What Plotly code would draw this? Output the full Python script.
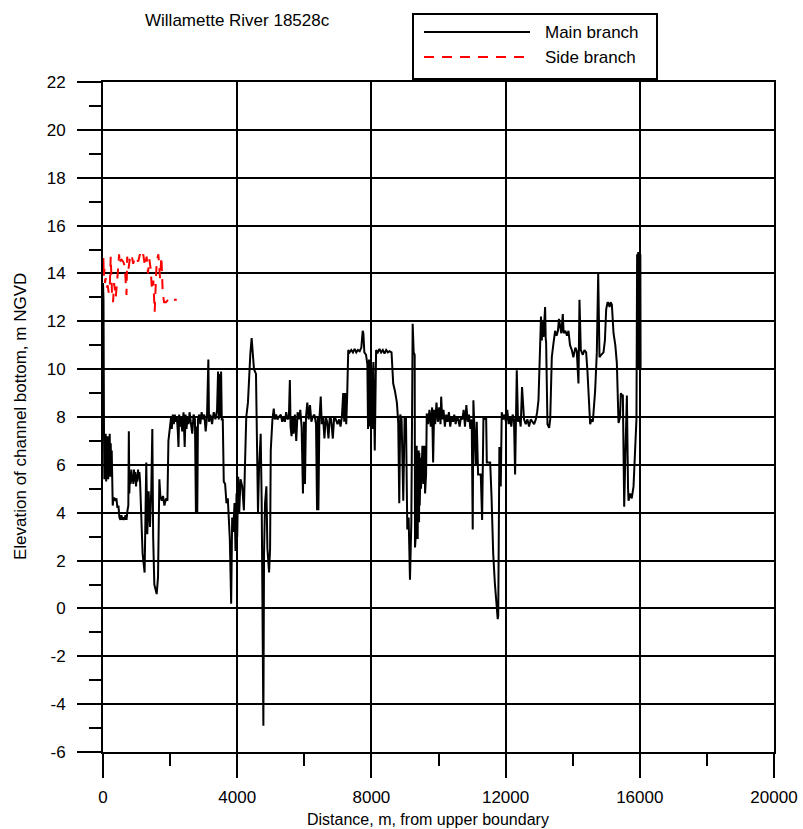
import plotly.graph_objects as go

# Channel-bottom profile along the main branch (distance from upper boundary, m)
distance_main = [
    0, 15, 30, 40, 55, 65, 80, 95, 110, 125, 140, 155, 170, 185, 200, 215, 230, 245, 260, 275,
    290, 310, 340, 370, 400, 430, 460, 490, 520, 550, 580, 610, 640, 670, 700, 730, 755, 770, 785, 805,
    825, 845, 865, 885, 905, 925, 945, 965, 985, 1005, 1025, 1045, 1065, 1085, 1105, 1130, 1180, 1240, 1290, 1320,
    1360, 1400, 1440, 1470, 1495, 1530, 1600, 1640, 1680, 1710, 1750, 1790, 1830, 1880, 1920, 1950, 2000, 2030, 2050, 2080,
    2110, 2140, 2170, 2200, 2230, 2250, 2270, 2300, 2330, 2360, 2400, 2435, 2460, 2490, 2520, 2550, 2580, 2620, 2660, 2700,
    2740, 2770, 2790, 2810, 2830, 2870, 2900, 2940, 2980, 3020, 3060, 3100, 3140, 3160, 3200, 3250, 3300, 3350, 3400, 3430,
    3450, 3470, 3490, 3520, 3540, 3570, 3600, 3640, 3680, 3720, 3780, 3820, 3850, 3880, 3920, 3950, 3980, 4000, 4030, 4060,
    4100, 4150, 4200, 4230, 4270, 4320, 4360, 4390, 4430, 4460, 4500, 4560, 4590, 4620, 4650, 4700, 4730, 4760, 4780, 4800,
    4830, 4870, 4900, 4950, 4980, 5000, 5050, 5090, 5120, 5160, 5200, 5240, 5300, 5340, 5380, 5420, 5460, 5500, 5540, 5570,
    5590, 5620, 5650, 5680, 5720, 5760, 5800, 5840, 5880, 5920, 5960, 5990, 6020, 6050, 6090, 6130, 6170, 6210, 6250, 6300,
    6350, 6380, 6400, 6420, 6450, 6490, 6520, 6560, 6600, 6640, 6680, 6720, 6760, 6800, 6850, 6890, 6940, 6990, 7040, 7080,
    7120, 7160, 7190, 7220, 7250, 7280, 7310, 7350, 7400, 7450, 7500, 7550, 7600, 7650, 7700, 7740, 7760, 7790, 7840, 7880,
    7900, 7930, 7960, 7990, 8030, 8060, 8100, 8140, 8190, 8240, 8290, 8340, 8390, 8440, 8490, 8540, 8600, 8650, 8700, 8760,
    8800, 8830, 8860, 8900, 8950, 8990, 9030, 9070, 9110, 9150, 9190, 9230, 9260, 9290,
    9300, 9310, 9320, 9330, 9340, 9350, 9360, 9370, 9380, 9390, 9400, 9410, 9420, 9430, 9440, 9450, 9460, 9470, 9480, 9490,
    9500, 9520, 9550, 9580, 9600, 9630, 9650, 9690, 9730, 9770, 9810, 9840, 9870, 9900, 9940, 9980,
    10020, 10060, 10080, 10110, 10150, 10190, 10230, 10270, 10310, 10350, 10390, 10430, 10470, 10510, 10550, 10590, 10630, 10670, 10710, 10750,
    10790, 10830, 10870, 10910, 10950, 10990, 11020, 11040, 11080, 11110, 11140, 11180, 11220, 11260, 11300, 11340, 11380, 11420, 11440, 11480,
    11540, 11580, 11630, 11680, 11730, 11765, 11780, 11815, 11855, 11885, 11930, 11970, 12010, 12050, 12090, 12130, 12170, 12210, 12250, 12283,
    12333, 12370, 12410, 12450, 12490, 12520, 12550, 12600, 12650, 12700, 12750, 12800, 12850, 12900, 12940, 12980,
    13030, 13055, 13080, 13100, 13130, 13155, 13178, 13195, 13208,
    13248, 13298, 13330, 13377, 13420, 13476, 13520, 13560, 13590, 13625, 13660, 13705, 13730, 13780, 13830, 13874, 13920, 13973, 14020,
    14080, 14122, 14172, 14202, 14242, 14300, 14350, 14401, 14440, 14470, 14520, 14560, 14600, 14669, 14719, 14760, 14799, 14850, 14918, 14960,
    14998, 15040, 15067, 15100, 15130, 15167, 15217, 15270, 15316, 15366, 15410, 15436, 15470, 15495, 15535, 15580, 15615, 15650, 15664, 15714,
    15760, 15813, 15863, 15900,
    15920, 15928, 15936, 15944, 15952, 15960, 15968, 15976, 15984, 15992, 16000, 16008, 16016, 16024,
]
elev_main = [
    13.6, 12.9, 7.3, 5.4, 7.2, 5.6, 7.3, 5.3, 7.1, 5.5, 7.2, 5.4, 7.0, 5.6, 7.3, 5.5, 6.9, 5.7, 6.6, 5.5,
    4.3, 4.6, 4.6, 4.5, 4.6, 4.2, 4.3, 3.8, 3.7, 3.9, 3.7, 3.8, 3.7, 3.9, 3.7, 4.1, 4.3, 7.4, 4.8, 5.7,
    5.2, 5.8, 5.3, 5.6, 5.2, 5.8, 5.3, 5.7, 5.1, 5.6, 5.3, 5.8, 5.4, 5.7, 5.3, 4.3, 2.3, 1.5, 6.1, 3.1,
    4.9, 3.4, 5.0, 7.5, 3.0, 1.0, 0.6, 1.3, 5.4, 4.7, 4.5, 4.7, 4.3, 4.6, 4.5, 7.0, 7.8, 8.0, 7.5, 8.1,
    7.7, 8.1, 7.8, 8.0, 7.4, 6.75, 8.1, 7.6, 8.0, 7.4, 8.2, 6.75, 8.1, 7.5, 8.0, 7.7, 8.2, 7.8, 7.3, 8.1,
    7.9, 4.0, 7.6, 4.0, 7.9, 8.1, 7.7, 8.2, 7.9, 8.1, 7.4, 8.0, 10.4, 7.8, 8.1, 7.7, 8.2, 7.9, 8.3, 9.9,
    7.9, 9.8, 8.0, 9.9, 7.9, 7.9, 5.3, 5.2, 4.4, 4.6, 2.9, 0.2, 3.8, 3.2, 4.4, 2.4, 4.8, 3.0, 5.5, 4.0,
    5.4, 5.1, 4.1, 5.9, 8.0, 8.6, 9.9, 10.6, 11.3, 10.5, 10.0, 9.8, 5.9, 4.0, 5.8, 7.3, 4.4, 0.5, -4.9, 2.3,
    4.4, 5.1, 2.5, 1.5, 2.5, 6.6, 7.9, 8.35, 7.9, 8.1, 7.9, 8.0, 8.1, 7.8, 8.0, 7.8, 8.2, 7.9, 8.0, 9.55,
    7.6, 7.2, 8.0, 7.3, 8.1, 7.0, 8.2, 7.9, 8.3, 7.6, 4.8, 7.8, 5.2, 8.0, 8.6, 7.9, 8.5, 7.8, 8.0, 8.1,
    7.7, 4.1, 8.0, 4.1, 7.9, 8.85, 7.7, 8.0, 7.1, 8.0, 7.8, 7.1, 8.0, 7.9, 7.1, 8.0, 7.9, 7.7, 7.9, 7.6,
    8.0, 9.0, 7.8, 9.0, 7.7, 9.0, 10.8, 10.7, 10.8, 10.7, 10.85, 10.7, 10.8, 10.75, 10.9, 11.6, 11.5, 10.7, 10.6, 10.2,
    7.5, 10.4, 7.6, 10.2, 7.5, 10.3, 6.6, 10.8, 10.7, 10.85, 10.7, 10.8, 10.65, 10.8, 10.7, 10.75, 10.7, 9.4, 9.1, 8.6,
    7.75, 4.4, 8.1, 7.9, 4.5, 8.0, 8.0, 3.3, 3.8, 1.2, 3.6, 11.9, 10.7, 10.6,
    2.55, 6.9, 3.0, 6.6, 2.9, 6.8, 3.2, 6.5, 2.9, 6.2, 4.0, 6.6, 3.6, 6.5, 4.3, 6.0, 4.6, 6.3, 5.0, 6.0,
    5.2, 6.8, 5.2, 6.8, 4.8, 5.6, 8.15, 7.7, 8.3, 7.6, 8.4, 6.1, 8.3, 7.7, 8.6, 7.8,
    8.4, 7.7, 8.85, 7.9, 8.3, 7.6, 8.1, 7.8, 8.2, 7.6, 8.0, 7.8, 8.1, 7.7, 8.0, 7.9, 7.6, 8.0, 7.9, 8.3,
    7.6, 8.5, 7.8, 8.1, 7.5, 7.9, 3.3, 8.7, 7.2, 6.0, 7.8, 5.6, 5.6, 5.6, 3.7, 8.0, 7.9, 8.0, 6.1, 6.1,
    6.1, 4.7, 2.3, 1.05, 0.2, -0.45, -0.3, 6.75, 5.1, 8.2, 7.9, 8.1, 7.8, 8.3, 7.7, 8.0, 7.6, 8.1, 7.9, 5.6,
    9.95, 7.8, 8.0, 7.6, 9.25, 8.7, 7.9, 7.7, 7.9, 7.6, 7.9, 7.8, 7.7, 7.9, 8.2, 8.7,
    10.8, 12.2, 11.2, 12.05, 11.35, 12.4, 12.6, 11.3, 11.1,
    7.7, 7.55, 7.9, 10.5, 11.0, 11.6, 11.4, 11.6, 12.1, 11.75, 11.5, 12.3, 11.5, 11.6, 11.4, 11.6, 11.0, 10.8, 10.5,
    10.9, 10.75, 9.4, 12.9, 10.8, 10.6, 10.8, 10.7, 9.9, 9.2, 7.7, 7.9, 7.8, 9.1, 10.7, 14.0, 10.5, 10.6, 10.7, 11.2,
    12.5, 12.8, 12.75, 12.6, 12.8, 12.7, 11.5, 11.0, 10.25, 7.75, 8.0, 9.0, 8.9, 8.9, 4.25, 7.0, 8.9, 5.0, 4.5, 4.8,
    4.6, 5.1, 6.75, 7.9,
    14.8, 10.1, 14.8, 10.0, 14.9, 10.2, 14.7, 10.0, 14.8, 10.1, 14.85, 10.0, 14.8, 10.0,
]

# Side branch profile
distance_side = [
    0, 10, 25, 40, 60, 80, 110, 140, 170, 200, 230, 250, 270, 300, 330, 380, 400, 440, 480, 500,
    540, 600, 650, 700, 720, 760, 800, 850, 900, 950, 1000, 1050, 1100, 1150, 1200, 1250, 1300, 1340, 1380, 1420,
    1460, 1500, 1540, 1560, 1600, 1650, 1680, 1700, 1740, 1780, 1820, 1880, 1940, 2000, 2100, 2200,
]
elev_side = [
    14.0, 14.7, 13.9, 14.2, 13.6, 13.8, 13.4, 13.5, 13.2, 13.3, 14.7, 13.9, 13.1, 12.8, 13.6, 13.0, 13.5, 14.0, 14.8, 14.4,
    14.6, 14.5, 14.3, 13.1, 14.7, 14.2, 14.6, 14.8, 14.4, 14.7, 14.6, 14.5, 14.8, 14.6, 14.8, 14.3, 14.7, 14.0, 14.6, 14.2,
    13.3, 13.7, 12.4, 13.0, 14.5, 14.8, 14.2, 13.8, 14.7, 13.2, 12.8, 12.8, 12.9, 12.8, 12.9, 12.9,
]

x_ticks = [0, 4000, 8000, 12000, 16000, 20000]
x_minor_step = 2000
y_ticks = list(range(-6, 23, 2))

title_text = "Willamette River 18528c"
x_title = "Distance, m, from upper boundary"
y_title = "Elevation of channel bottom, m NGVD"
series_names = ["Main branch", "Side branch"]

FONT = "Liberation Sans, Arial, sans-serif"
W, H = 803, 829
L, R, T, B = 103, 29, 82, 77
PW, PH = W - L - R, H - T - B


def px(xp):
    """Horizontal pixel -> paper fraction."""
    return (xp - L) / PW


def py(yp):
    """Vertical pixel -> paper fraction."""
    return 1 - (yp - T) / PH


fig = go.Figure()
fig.add_trace(go.Scatter(
    x=distance_main, y=elev_main, mode="lines", name=series_names[0],
    line=dict(color="black", width=2),
))
fig.add_trace(go.Scatter(
    x=distance_side, y=elev_side, mode="lines", name=series_names[1],
    line=dict(color="red", width=2, dash="10px,8px"),
))

axis_common = dict(
    automargin=False,
    showgrid=True, gridcolor="black", gridwidth=2,
    showline=True, linecolor="black", linewidth=2, mirror=True,
    zeroline=False,
    ticks="outside", ticklen=24, tickwidth=2, tickcolor="black",
    tickfont=dict(family=FONT, size=17, color="black"),
)

fig.update_layout(
    width=W, height=H,
    margin=dict(l=L, r=R, t=T, b=B, pad=0, autoexpand=False),
    paper_bgcolor="white", plot_bgcolor="white",
    showlegend=False,
    xaxis=dict(
        range=[0, 20000], tickmode="array", tickvals=x_ticks,
        ticktext=[str(v) for v in x_ticks],
        minor=dict(dtick=x_minor_step, tick0=0, ticks="outside", ticklen=12,
                   tickwidth=2, tickcolor="black", showgrid=False),
        ticklabelstandoff=5,
        **axis_common,
    ),
    yaxis=dict(
        range=[-6, 22], tickmode="array", tickvals=y_ticks,
        ticktext=[str(v) for v in y_ticks],
        minor=dict(dtick=1, tick0=0, ticks="outside", ticklen=12,
                   tickwidth=2, tickcolor="black", showgrid=False),
        ticklabelstandoff=8,
        **axis_common,
    ),
)

# Title and axis titles
fig.add_annotation(text=title_text, xref="paper", yref="paper",
                   x=px(143), y=py(20), xanchor="left", yanchor="middle",
                   showarrow=False, font=dict(family=FONT, size=17, color="black"))
fig.add_annotation(text=x_title, xref="paper", yref="paper",
                   x=px(428), y=py(819), xanchor="center", yanchor="middle",
                   showarrow=False, font=dict(family=FONT, size=16, color="black"))
fig.add_annotation(text=y_title, xref="paper", yref="paper",
                   x=px(20), y=py(417), xanchor="center", yanchor="middle",
                   textangle=-90, showarrow=False,
                   font=dict(family=FONT, size=17, color="black"))

# Legend box drawn above the plotting area
fig.add_shape(type="rect", xref="paper", yref="paper",
              x0=px(413), x1=px(657), y0=py(79), y1=py(14),
              line=dict(color="black", width=2), fillcolor="white", layer="above")
legend_rows = [(32, "black", "solid"), (57, "red", "10px,8px")]
for (row_y, color, dash), name in zip(legend_rows, series_names):
    fig.add_shape(type="line", xref="paper", yref="paper",
                  x0=px(424), x1=px(530), y0=py(row_y), y1=py(row_y),
                  line=dict(color=color, width=2, dash=dash), layer="above")
    fig.add_annotation(text=name, xref="paper", yref="paper",
                       x=px(543), y=py(row_y), xanchor="left", yanchor="middle",
                       showarrow=False, font=dict(family=FONT, size=17, color="black"))

fig.write_html("out.html")
